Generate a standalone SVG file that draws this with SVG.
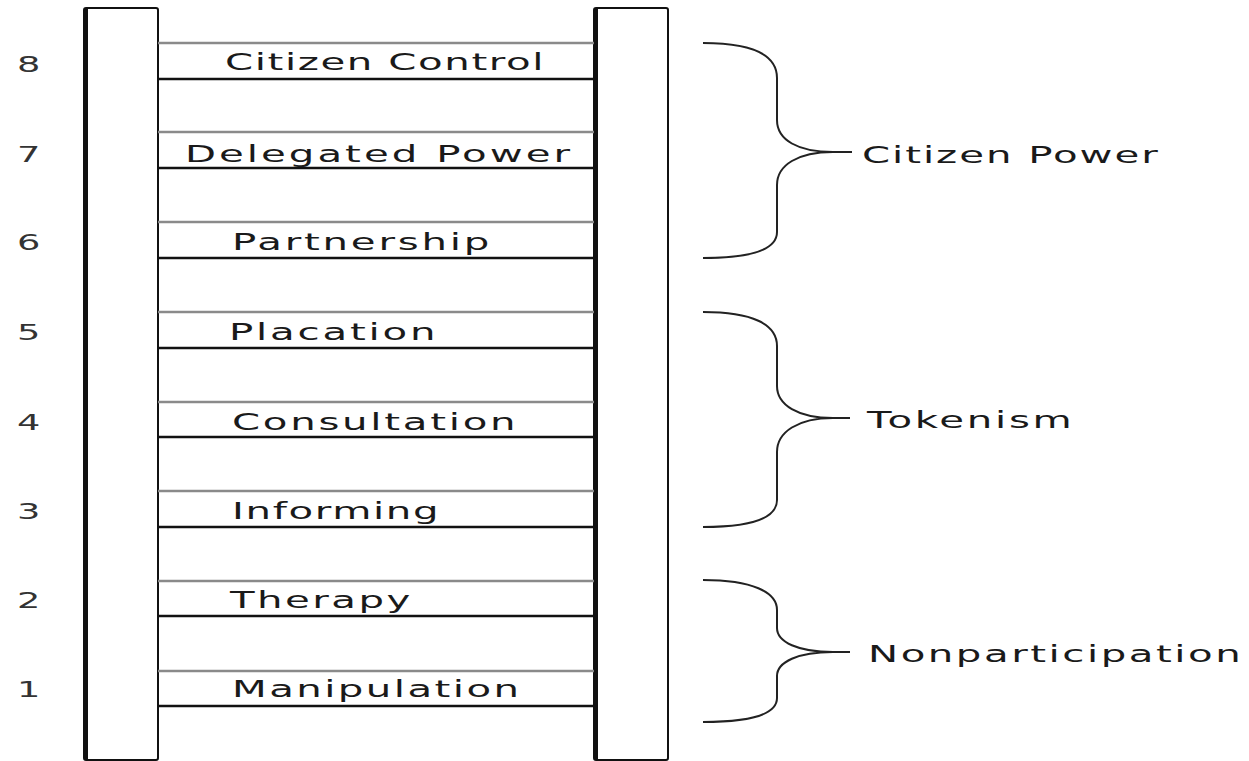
<svg xmlns="http://www.w3.org/2000/svg" width="1249" height="761" viewBox="0 0 1249 761">
<style>
.rail{fill:#fff;stroke:#111;stroke-width:2}
.edge{stroke:#111;stroke-width:4}
.rt{stroke:#8a8a8a;stroke-width:2.5}
.rb{stroke:#111;stroke-width:2.5}
.lbl{font-family:"DejaVu Sans",sans-serif;font-size:23px;fill:#1a1a1a}
.num{font-family:"DejaVu Sans",sans-serif;font-size:21px;fill:#333}
.brace{fill:none;stroke:#222;stroke-width:2}
</style>
<rect width="1249" height="761" fill="#fff"/>
<g id="rails">
<rect class="rail" x="84" y="8" width="74" height="752" rx="2"/>
<line class="edge" x1="86" y1="8" x2="86" y2="760"/>
<rect class="rail" x="594" y="8" width="74" height="752" rx="2"/>
<line class="edge" x1="596" y1="8" x2="596" y2="760"/>
</g>
<g id="rungs">
<line class="rt" x1="158" y1="43" x2="594" y2="43"/><line class="rb" x1="158" y1="79" x2="594" y2="79"/>
<line class="rt" x1="158" y1="132" x2="594" y2="132"/><line class="rb" x1="158" y1="168" x2="594" y2="168"/>
<line class="rt" x1="158" y1="222" x2="594" y2="222"/><line class="rb" x1="158" y1="258" x2="594" y2="258"/>
<line class="rt" x1="158" y1="312" x2="594" y2="312"/><line class="rb" x1="158" y1="348" x2="594" y2="348"/>
<line class="rt" x1="158" y1="402" x2="594" y2="402"/><line class="rb" x1="158" y1="437" x2="594" y2="437"/>
<line class="rt" x1="158" y1="491" x2="594" y2="491"/><line class="rb" x1="158" y1="527" x2="594" y2="527"/>
<line class="rt" x1="158" y1="581" x2="594" y2="581"/><line class="rb" x1="158" y1="616" x2="594" y2="616"/>
<line class="rt" x1="158" y1="671" x2="594" y2="671"/><line class="rb" x1="158" y1="706" x2="594" y2="706"/>
</g>
<g id="rung-labels">
<text class="lbl" transform="translate(225,70) scale(1.75,1)" textLength="182" lengthAdjust="spacing">Citizen Control</text>
<text class="lbl" transform="translate(185,162) scale(1.75,1)" textLength="220" lengthAdjust="spacing">Delegated Power</text>
<text class="lbl" transform="translate(232,250) scale(1.75,1)" textLength="147" lengthAdjust="spacing">Partnership</text>
<text class="lbl" transform="translate(229,340) scale(1.75,1)" textLength="118" lengthAdjust="spacing">Placation</text>
<text class="lbl" transform="translate(232,430) scale(1.75,1)" textLength="162" lengthAdjust="spacing">Consultation</text>
<text class="lbl" transform="translate(232,519) scale(1.75,1)" textLength="118" lengthAdjust="spacing">Informing</text>
<text class="lbl" transform="translate(230,608) scale(1.75,1)" textLength="103" lengthAdjust="spacing">Therapy</text>
<text class="lbl" transform="translate(232,697) scale(1.75,1)" textLength="164" lengthAdjust="spacing">Manipulation</text>
</g>
<g id="numbers">
<text class="num" transform="translate(17,72) scale(1.75,1)">8</text>
<text class="num" transform="translate(17,162) scale(1.75,1)">7</text>
<text class="num" transform="translate(17,250) scale(1.75,1)">6</text>
<text class="num" transform="translate(17,340) scale(1.75,1)">5</text>
<text class="num" transform="translate(17,430) scale(1.75,1)">4</text>
<text class="num" transform="translate(17,519) scale(1.75,1)">3</text>
<text class="num" transform="translate(17,608) scale(1.75,1)">2</text>
<text class="num" transform="translate(17,697) scale(1.75,1)">1</text>
</g>
<g id="connectors">
<path class="brace" d="M703,43 C752,43 777,55 777,78 L777,120 C777,140 798,152 833,152 L852,152 M833,152 C798,152 777,165 777,185 L777,232 C777,250 752,258 703,258"/>
<path class="brace" d="M703,312 C752,312 777,324 777,346 L777,386 C777,405 798,418 833,418 L850,418 M833,418 C798,418 777,432 777,452 L777,500 C777,518 752,527 703,527"/>
<path class="brace" d="M703,580 C752,580 777,592 777,610 L777,628 C777,642 798,652 833,652 L850,652 M833,652 C798,652 777,662 777,676 L777,698 C777,714 752,722 703,722"/>
</g>
<g id="group-labels">
<text class="lbl" transform="translate(862,163) scale(1.75,1)" textLength="169" lengthAdjust="spacing">Citizen Power</text>
<text class="lbl" transform="translate(867,428) scale(1.75,1)" textLength="117" lengthAdjust="spacing">Tokenism</text>
<text class="lbl" transform="translate(868,662) scale(1.75,1)" textLength="213" lengthAdjust="spacing">Nonparticipation</text>
</g>
</svg>
